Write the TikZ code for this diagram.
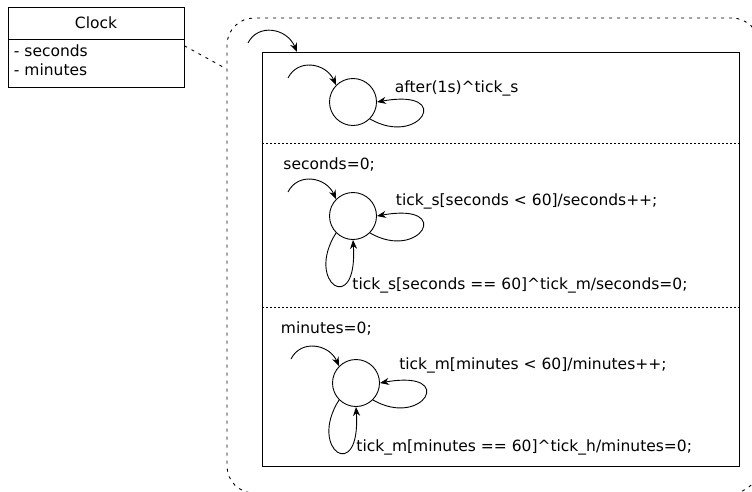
\documentclass[tikz,border=0pt]{standalone}
\usepackage{fontspec}
\setmainfont{DejaVu Sans}
\usetikzlibrary{arrows.meta}
\begin{document}
\begin{tikzpicture}[x=1pt,y=-1pt,line width=0.9pt,
  stnode/.style={circle,draw,minimum size=47pt,inner sep=0pt},
  txt/.style={font=\fontsize{15.5}{18.6}\selectfont},
  lbl/.style={txt,anchor=base west,inner sep=0pt},
  arr/.style={-{Stealth[length=9pt,width=7pt]}},
  sepline/.style={dash pattern=on 2pt off 2pt,line width=0.8pt},
  regline/.style={dash pattern=on 3pt off 5pt,line width=0.9pt}]
\useasboundingbox (0,0) rectangle (752,491);
\fill[white] (0,0) rectangle (752,491);
\clip (0,0) rectangle (752,491);

% Clock class box
\node[draw,minimum width=176pt,minimum height=32pt,inner sep=0pt,txt] (clocktitle) at (96,23) {Clock};
\node[draw,minimum width=176pt,minimum height=48pt,inner sep=0pt] (clockattr) at (96,63) {};
\node[lbl] (attr1) at (13.5,56) {- seconds};
\node[lbl] (attr2) at (13.5,75) {- minutes};

% region (dotted rounded)
\node[draw,regline,rounded corners=27pt,minimum width=532pt,minimum height=475pt,inner sep=0pt] (region) at (493,255.5) {};
\draw[regline] (clockattr.11.6) -- (region.145.4);

% inner state box
\node[draw,minimum width=477pt,minimum height=414pt,inner sep=0pt] (inner) at (500.5,259) {};
\coordinate (oi) at (248,43);
\coordinate (oe) at (297,52);
\draw[arr] (oi) .. controls +(10,-20) and +(-10,-24) .. (oe);

% separators
\coordinate (sepA) at (262,143);
\coordinate (sepB) at (262,307);
\draw[sepline] (sepA) -- (sepA -| inner.east);
\draw[sepline] (sepB) -- (sepB -| inner.east);

% region 1
\node[stnode] (c1) at (353,102) {};
\coordinate (i1) at (288,78);
\draw[arr] (i1) .. controls +(10,-20) and +(-10,-22) .. (c1.135);
\draw[arr] (c1.-45) .. controls +(50,29) and +(78,-14) .. (c1.0);
\node[lbl] (l1) at (394.5,92.3) {after(1s)\textasciicircum tick\_s};

% region 2
\node[stnode] (c2) at (353,216) {};
\coordinate (i2) at (288,192);
\node[lbl] (l2a) at (283,169.3) {seconds=0;};
\draw[arr] (i2) .. controls +(10,-20) and +(-10,-22) .. (c2.135);
\draw[arr] (c2.-45) .. controls +(50,29) and +(78,-14) .. (c2.0);
\node[lbl] (l2b) at (395.5,205.7) {tick\_s[seconds < 60]/seconds++;};
\draw[arr] (c2.225) .. controls +(-32,50) and +(5,78) .. (c2.270);
\node[lbl] (l2c) at (352,289) {tick\_s[seconds == 60]\textasciicircum tick\_m/seconds=0;};

% region 3
\node[stnode] (c3) at (356,383) {};
\coordinate (i3) at (291,359);
\node[lbl] (l3a) at (280.5,333.3) {minutes=0;};
\draw[arr] (i3) .. controls +(10,-20) and +(-10,-22) .. (c3.135);
\draw[arr] (c3.-45) .. controls +(50,29) and +(78,-14) .. (c3.0);
\node[lbl] (l3b) at (398.8,369.3) {tick\_m[minutes < 60]/minutes++;};
\draw[arr] (c3.225) .. controls +(-32,50) and +(5,78) .. (c3.270);
\node[lbl] (l3c) at (356,451.7) {tick\_m[minutes == 60]\textasciicircum tick\_h/minutes=0;};
\end{tikzpicture}
\end{document}
